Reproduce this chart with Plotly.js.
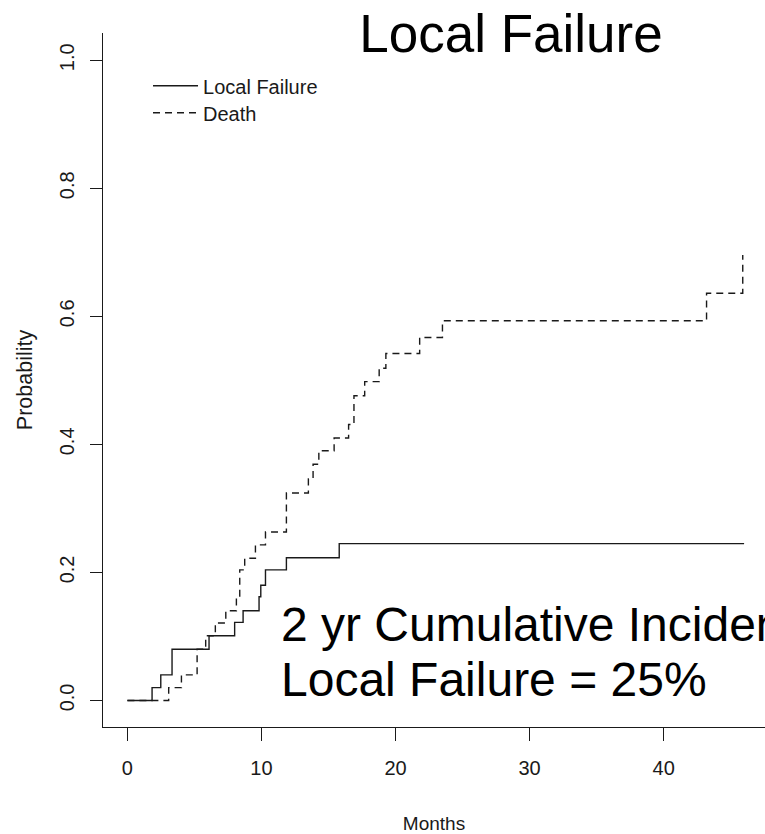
<!DOCTYPE html>
<html>
<head>
<meta charset="utf-8">
<script src="https://cdn.plot.ly/plotly-3.0.1.min.js"></script>
<style>
  html, body { margin: 0; padding: 0; background: #ffffff; overflow: hidden; }
  #chart { width: 765px; height: 834px; }
</style>
</head>
<body>
<div id="chart"></div>
<script>
// Cumulative incidence step functions (months, probability)
const localFailureMonths = [0, 1.84, 2.49, 3.33, 6.09, 8.0, 8.63, 9.82, 9.95, 10.3, 11.86, 15.8, 46.0];
const localFailureProb   = [0, 0.020, 0.040, 0.080, 0.101, 0.122, 0.140, 0.162, 0.180, 0.204, 0.223, 0.245, 0.245];

const deathMonths = [0, 3.08, 4.03, 5.2, 5.84, 6.56, 7.34, 8.13, 8.38, 8.75, 9.55, 10.3, 11.86,
                     13.5, 13.85, 14.28, 15.42, 16.5, 16.9, 17.7, 18.78, 19.28, 21.8, 23.5, 43.2, 45.9];
const deathProb   = [0, 0.020, 0.040, 0.080, 0.101, 0.121, 0.140, 0.163, 0.204, 0.222, 0.243, 0.263, 0.324,
                     0.346, 0.369, 0.390, 0.410, 0.431, 0.476, 0.498, 0.519, 0.542, 0.567, 0.593, 0.636, 0.696];

const seriesNames = ['Local Failure', 'Death'];
const xTickVals = [0, 10, 20, 30, 40];
const yTickVals = [0, 0.2, 0.4, 0.6, 0.8, 1.0];
const yTickText = ['0.0', '0.2', '0.4', '0.6', '0.8', '1.0'];

const chartTitle = 'Local Failure';
const noteLine1 = '2 yr Cumulative Incidence';
const noteLine2 = 'Local Failure = 25%';

const sans = '"Liberation Sans", Arial, sans-serif';
const ink = '#1a1a1a';

const traces = [
  {
    x: localFailureMonths, y: localFailureProb, name: seriesNames[0],
    type: 'scatter', mode: 'lines',
    line: { shape: 'hv', color: ink, width: 1.4 },
    legend: 'legend'
  },
  {
    x: deathMonths, y: deathProb, name: seriesNames[1],
    type: 'scatter', mode: 'lines',
    line: { shape: 'hv', color: ink, width: 1.4, dash: '7px,5px' },
    legend: 'legend2'
  }
];

const legendStyle = {
  xref: 'paper', yref: 'paper', xanchor: 'left', yanchor: 'middle',
  bgcolor: 'rgba(0,0,0,0)', borderwidth: 0, itemwidth: 45,
  font: { family: sans, size: 20, color: ink },
  itemclick: false, itemdoubleclick: false
};

const layout = {
  width: 765, height: 834,
  margin: { l: 103, r: 0, t: 33, b: 107, pad: 0 },
  paper_bgcolor: '#ffffff', plot_bgcolor: '#ffffff',
  showlegend: true,
  title: {
    text: chartTitle,
    font: { family: sans, size: 53, color: '#000000' },
    xref: 'container', yref: 'container',
    x: 511 / 765, xanchor: 'center',
    y: 1 - 33 / 834, yanchor: 'middle'
  },
  legend: Object.assign({}, legendStyle, { x: 0.068, y: 0.924 }),
  legend2: Object.assign({}, legendStyle, { x: 0.068, y: 0.885 }),
  xaxis: {
    range: [-1.82, 47.56],
    tickmode: 'array', tickvals: xTickVals,
    ticks: 'outside', ticklen: 13, tickwidth: 1.3, tickcolor: ink,
    ticklabelstandoff: 10,
    showline: true, linecolor: ink, linewidth: 1.3,
    showgrid: false, zeroline: false,
    tickfont: { family: sans, size: 20, color: ink },
    title: { text: 'Months', font: { family: sans, size: 19, color: ink }, standoff: 38 },
    automargin: false, fixedrange: true
  },
  yaxis: {
    range: [-0.0415, 1.0426],
    tickmode: 'array', tickvals: yTickVals, ticktext: yTickText,
    tickangle: -90,
    ticks: 'outside', ticklen: 12, tickwidth: 1.3, tickcolor: ink,
    ticklabelstandoff: 8,
    showline: true, linecolor: ink, linewidth: 1.3,
    showgrid: false, zeroline: false,
    tickfont: { family: sans, size: 20, color: ink },
    title: { text: 'Probability', font: { family: sans, size: 21.5, color: ink }, standoff: 17 },
    automargin: false, fixedrange: true
  },
  annotations: [
    {
      xref: 'x', yref: 'y', x: 11.3, y: 0.118,
      xanchor: 'left', yanchor: 'middle', showarrow: false,
      text: noteLine1, font: { family: sans, size: 48, color: '#000000' }
    },
    {
      xref: 'x', yref: 'y', x: 11.3, y: 0.032,
      xanchor: 'left', yanchor: 'middle', showarrow: false,
      text: noteLine2, font: { family: sans, size: 48, color: '#000000' }
    }
  ]
};

Plotly.newPlot('chart', traces, layout, { staticPlot: true, displayModeBar: false });
</script>
</body>
</html>
